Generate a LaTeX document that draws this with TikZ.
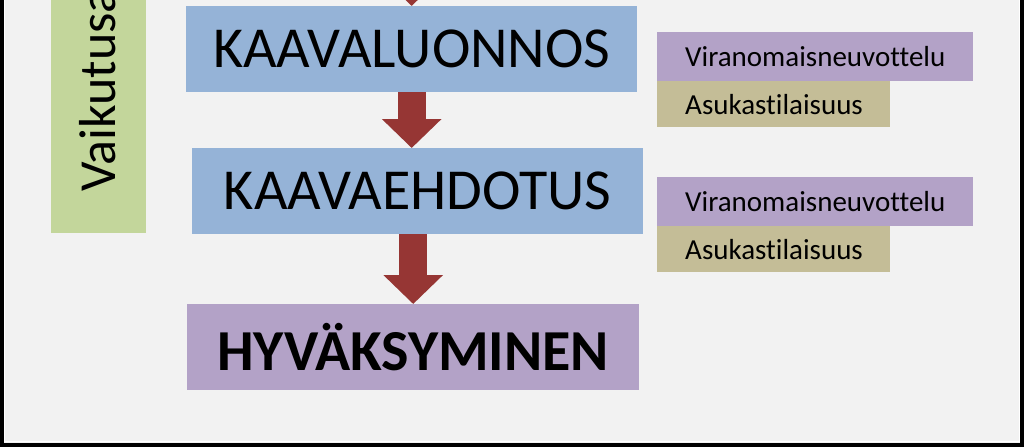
\documentclass[tikz,border=0pt]{standalone}
\usepackage{fontspec}
\setmainfont{Carlito}[Ligatures=NoCommon]
\usetikzlibrary{arrows.meta,positioning}
\definecolor{tausta}{HTML}{F2F2F2}
\definecolor{sininen}{HTML}{95B3D7}
\definecolor{violetti}{HTML}{B3A2C7}
\definecolor{khaki}{HTML}{C4BD97}
\definecolor{vihrea}{HTML}{C3D69B}
\definecolor{punainen}{HTML}{963634}
\hyphenpenalty=10000

\begin{document}
\begin{tikzpicture}[x=1pt,y=-1pt]
    \tikzstyle{vaihe}=[rectangle,inner sep=0pt,anchor=north west,minimum width=451pt,minimum height=86pt,font=\fontsize{58}{60}\selectfont]
    \tikzstyle{luonnosvaihe}=[vaihe, fill=sininen];
    \tikzstyle{hyvaksyntavaihe}=[vaihe, fill=violetti, font=\fontsize{58}{60}\selectfont\bfseries];
    \tikzstyle{osallistuminen}=[rectangle,inner xsep=28pt,inner ysep=0pt,align=left,font=\fontsize{29}{32}\selectfont]
    \tikzstyle{neuvottelu}=[osallistuminen, fill=violetti, text width=260pt, minimum height=48.5pt];
    \tikzstyle{tilaisuus}=[osallistuminen, fill=khaki, text width=177pt, minimum height=46pt];
    \tikzstyle{nuoli}=[draw=punainen,line width=28pt,-{Triangle[length=29pt,width=58pt]}]

    \useasboundingbox (0,0) rectangle (1024,447);
    \clip (0,0) rectangle (1024,447);
    \fill[tausta] (0,0) rectangle (1024,447);
    \draw[line width=4pt] (2,-20) rectangle (1022,445);
    \draw[white, line width=1pt] (4.5,-20) rectangle (1019.5,441.5);

    % Vaikutusten arviointi
    \node[rectangle,fill=vihrea,rotate=90,anchor=west,minimum width=300pt,minimum height=95pt,inner sep=0pt] (vaikutus) at (98.5,233) {};
    \node[rotate=90,anchor=base west,inner sep=0pt,font=\fontsize{52}{56}\selectfont] (vaikutusteksti) at (115,192) {Vaikutusa};

    % Kaavan vaiheet
    \node[luonnosvaihe] (luonnos) at (186,6) {KAAVALUONNOS};
    \node[luonnosvaihe] (ehdotus) at (192,148) {KAAVAEHDOTUS};
    \node[hyvaksyntavaihe, minimum width=452pt] (hyvaksyminen) at (187,304) {HYVÄKSYMINEN};

    % Osallistuminen
    \node[neuvottelu, anchor=north west] (neuvottelu1) at (657,32) {Viranomaisneuvottelu};
    \node[tilaisuus, below=0pt of neuvottelu1.south west, anchor=north west] (tilaisuus1) {Asukastilaisuus};
    \node[neuvottelu, anchor=north west] (neuvottelu2) at (657,177) {Viranomaisneuvottelu};
    \node[tilaisuus, below=0pt of neuvottelu2.south west, anchor=north west] (tilaisuus2) {Asukastilaisuus};

    \coordinate (ylhaalta) at (411.5,-40);
    \draw[nuoli] (ylhaalta) -- (luonnos.north);
    \draw[nuoli] (luonnos.south) -- (luonnos.south |- ehdotus.north);
    \draw[nuoli] (hyvaksyminen.north |- ehdotus.south) -- (hyvaksyminen.north);
\end{tikzpicture}
\end{document}
